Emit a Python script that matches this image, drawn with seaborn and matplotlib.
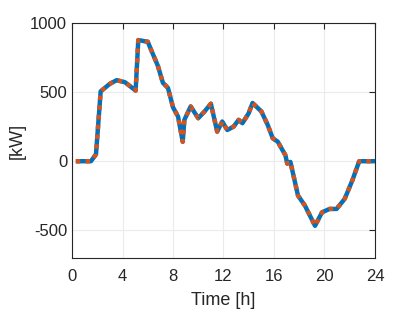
import matplotlib
matplotlib.use("Agg")
import matplotlib.pyplot as plt
import seaborn as sns
import pandas as pd

time_h = [0.3, 1.5, 1.9, 2.27, 3.0, 3.54, 4.2, 5.04, 5.25, 6.0, 6.3, 6.8, 7.2, 7.6, 8.0,
          8.4, 8.77, 8.9, 9.4, 10.0, 10.5, 11.0, 11.5, 11.9, 12.3, 12.8, 13.2, 13.5, 14.0,
          14.3, 15.0, 15.5, 15.9, 16.3, 16.9, 17.05, 17.3, 17.9, 18.45, 19.25, 19.8,
          20.4, 20.96, 21.6, 22.2, 22.75, 24.0]
power_kw = [0, 0, 50, 505, 560, 586, 571, 511, 876, 864, 798, 690, 567, 530, 390,
            323, 141, 299, 396, 311, 360, 416, 214, 287, 226, 250, 299, 275, 348,
            421, 360, 263, 166, 141, 44, -17, -5, -248, -321, -467, -370,
            -345, -345, -272, -140, 0, 0]

df = pd.DataFrame({"t": time_h, "p": power_kw})

sns.set_style("white")
plt.rcParams["font.family"] = ["Liberation Sans", "DejaVu Sans"]

fig = plt.figure(figsize=(4.15, 3.12), dpi=100)
ax = fig.add_axes([0.1735, 0.173, 0.7301, 0.7535])

sns.lineplot(data=df, x="t", y="p", ax=ax, color="#0072BD", linewidth=3.2,
             solid_capstyle="butt")
sns.lineplot(data=df, x="t", y="p", ax=ax, color="#D95319", linewidth=3.2,
             linestyle=(0, (1, 1.2)))

ax.set_xlim(0, 24)
ax.set_ylim(-700, 1000)
ax.set_xticks([0, 4, 8, 12, 16, 20, 24])
ax.set_yticks([-500, 0, 500, 1000])
ax.set_yticklabels(["-500", "0", "500", "1000"])
ax.grid(True, color="#ebebeb", linewidth=0.8)
ax.set_axisbelow(True)
for s in ax.spines.values():
    s.set_color("#262626")
    s.set_linewidth(0.8)
ax.tick_params(axis="both", direction="in", length=4, width=0.8, color="#262626",
               labelsize=12, labelcolor="#262626", top=True, right=True,
               labeltop=False, labelright=False)
ax.tick_params(axis="x", pad=8)
ax.set_xlabel("Time [h]", fontsize=13, color="#262626", labelpad=6)
ax.set_ylabel("[kW]", fontsize=13, color="#262626", labelpad=3)

fig.savefig("out.png", dpi=100)
